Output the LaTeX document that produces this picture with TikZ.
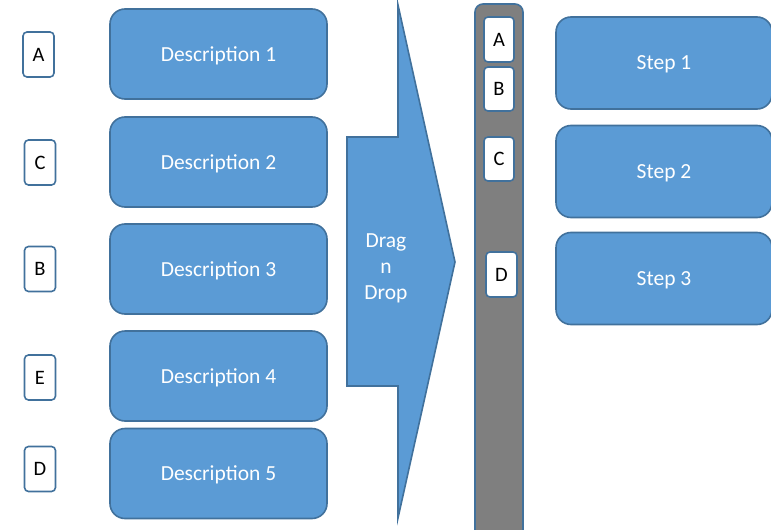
\documentclass[tikz,border=0pt]{standalone}
\usepackage{fontspec}
\setmainfont{Carlito}
\definecolor{boxfill}{HTML}{5B9BD5}
\definecolor{boxline}{HTML}{41719C}
\definecolor{bargrey}{HTML}{7F7F7F}
\tikzset{
  bluebox/.style={draw=boxline, fill=boxfill, line width=1.6pt, rounded corners=15pt,
    text=white, font=\fontsize{21.5}{26}\selectfont, inner sep=0pt, text depth=0pt},
  descbox/.style={bluebox, minimum width=217pt, minimum height=90pt},
  stepbox/.style={bluebox, minimum width=216pt, minimum height=92pt},
  letterbox/.style={draw=boxline, fill=white, line width=1.6pt, rounded corners=4pt,
    text=black, font=\fontsize{20.5}{24}\selectfont, inner sep=0pt,
    minimum width=31pt, minimum height=45pt}
}
\begin{document}
\begin{tikzpicture}[x=1pt,y=-1pt]
\useasboundingbox (0,0) rectangle (771,530);
% left letters
\node[letterbox] (lA) at (38.5,54.5) {A};
\node[letterbox] (lC) at (40,162.5) {C};
\node[letterbox] (lB) at (40,269) {B};
\node[letterbox] (lE) at (40,377.5) {E};
\node[letterbox] (lD) at (40,469) {D};
% descriptions
\node[descbox] (d1) at (218.5,54) {Description 1};
\node[descbox] (d2) at (218.5,162) {Description 2};
\node[descbox] (d3) at (218.5,269) {Description 3};
\node[descbox] (d4) at (218.5,376) {Description 4};
\node[descbox] (d5) at (218.5,473.5) {Description 5};
% arrow
\draw[draw=boxline, fill=boxfill, line width=1.6pt, line join=miter]
  (347,137) -- (398,137) -- (398,5) -- (455,262) -- (398,518) -- (398,386) -- (347,386) -- cycle;
\node[text=white, font=\fontsize{21.5}{26}\selectfont, align=center] (dnd) at (386,268) {Drag\\n\\Drop};
% grey bar
\draw[draw=boxline, fill=bargrey, line width=1.6pt, rounded corners=8pt]
  (475,545) -- (475,4) -- (523,4) -- (523,545);
\node[letterbox, minimum width=30pt] (bA) at (499,39.5) {A};
\node[letterbox, minimum width=30pt, minimum height=44pt] (bB) at (499,89) {B};
\node[letterbox, minimum width=30pt, minimum height=44pt] (bC) at (499,159) {C};
\node[letterbox] (bD) at (501.5,274.5) {D};
% steps
\node[stepbox] (s1) at (664,63) {Step 1};
\node[stepbox] (s2) at (664,171.5) {Step 2};
\node[stepbox] (s3) at (664,278.5) {Step 3};
\end{tikzpicture}
\end{document}
